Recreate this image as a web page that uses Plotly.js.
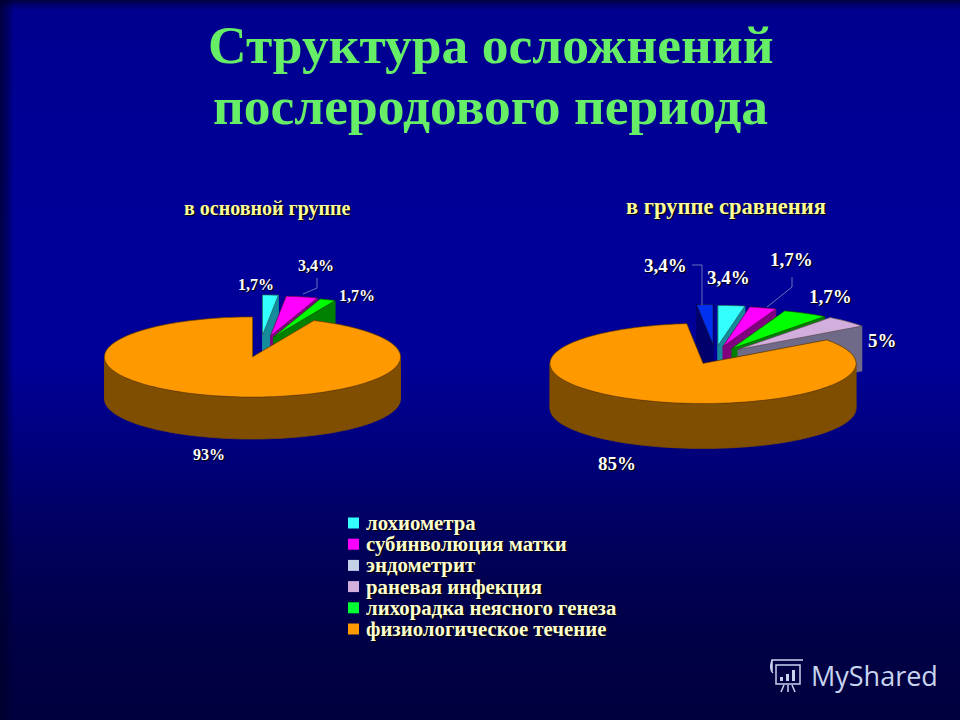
<!DOCTYPE html>
<html><head><meta charset="utf-8">
<script src="https://cdn.plot.ly/plotly-3.0.1.min.js"></script>
<style>
html,body{margin:0;padding:0;width:960px;height:720px;overflow:hidden;
background:
 linear-gradient(90deg,rgba(0,0,40,.75) 0,rgba(0,0,40,.5) 6px,rgba(0,0,40,0) 14px),
 linear-gradient(180deg,rgba(0,0,40,.8) 0,rgba(0,0,40,.4) 4px,rgba(0,0,40,0) 10px),
 linear-gradient(180deg,#00008e 0,#000098 30%,#000098 50%,#000078 64%,#000058 77%,#000046 89%,#00003e 100%);}
#c{width:960px;height:720px}
</style></head><body><div id="c"></div>
<script>
// --- data ---
const leftNames = ['лохиометра','субинволюция матки','лихорадка неясного генеза','физиологическое течение'];
const leftValues = [1.7, 3.4, 1.7, 93];
const leftLabels = ['1,7%','3,4%','1,7%','93%'];
const rightNames = ['без подписи','лохиометра','субинволюция матки','лихорадка неясного генеза','раневая инфекция','физиологическое течение'];
const rightValues = [1.7, 2.8, 2.8, 4.7, 4.7, 83.3];
const rightLabels = ['3,4%','3,4%','1,7%','1,7%','5%','85%'];
const legendItems = ['лохиометра','субинволюция матки','эндометрит','раневая инфекция','лихорадка неясного генеза','физиологическое течение'];
const legendColors = ['#33FFFF','#FF00FF','#C4D2E8','#D2AEDC','#00FF33','#FF9900'];

// --- styling and layout ---
const topColor = {'лохиометра':'#33FFFF','субинволюция матки':'#FF00FF','лихорадка неясного генеза':'#00FF00','раневая инфекция':'#D2AEDC','физиологическое течение':'#FF9900','без подписи':'#0030F0'};
const wallColor = {'лохиометра':'#148C9C','субинволюция матки':'#800080','лихорадка неясного генеза':'#008000','раневая инфекция':'#6E6A88','физиологическое течение':'#7F4E00','без подписи':'#00006C'};
const leftPie = {cx:252.5, cy:357, rx:148, ry:40, depth:42, start:0,
  shift:[[10,-22],[18,-21],[21,-20],[0,0]],
  labelAt:[[256,284],[316,265],[357,295],[209,454]], size:16};
const rightPie = {cx:703, cy:363.5, rx:153, ry:40, depth:45, start:-6.12,
  shift:[[10,-19],[15,-18],[20,-17],[29,-15],[35,-14],[0,0]],
  labelAt:[[665,265],[728,277],[791,259],[830,296],[882,340],[617,463]], size:19};

const traces = [];
function arc(ox,oy,pie,a0,a1){
  const xs=[],ys=[],n=Math.max(2,Math.ceil((a1-a0)/2));
  for(let k=0;k<=n;k++){
    const t=(a0+(a1-a0)*k/n)*Math.PI/180;
    xs.push(ox+pie.rx*Math.sin(t)); ys.push(oy-pie.ry*Math.cos(t));
  }
  return [xs,ys];
}
function poly(x,y,fill,line,name){
  traces.push({type:'scatter',mode:'lines',x,y,fill:'toself',fillcolor:fill,
    line:{color:line,width:0.7,simplify:false},hoverinfo:'skip',showlegend:false,name});
}
function slices(values, names, pie){
  const total = values.reduce((a,b)=>a+b,0);
  let ang = pie.start;
  values.forEach((v,i)=>{
    const a0 = ang, a1 = ang + v/total*360; ang = a1;
    const ox = pie.cx + pie.shift[i][0], oy = pie.cy + pie.shift[i][1];
    const [ax,ay] = arc(ox,oy,pie,a0,a1);
    const d = pie.depth, last = ax.length-1, wall = wallColor[names[i]];
    // two cut faces
    poly([ox,ax[0],ax[0],ox,ox],[oy,ay[0],ay[0]+d,oy+d,oy],wall,wall,names[i]+' (срез)');
    poly([ox,ax[last],ax[last],ox,ox],[oy,ay[last],ay[last]+d,oy+d,oy],wall,wall,names[i]+' (срез)');
    // outer wall, split where the rim turns from back to front
    const cuts = [a0].concat([90,270].filter(c=>c>a0&&c<a1),[a1]);
    for(let c=0;c<cuts.length-1;c++){
      const [bx,by] = arc(ox,oy,pie,cuts[c],cuts[c+1]);
      poly(bx.concat(bx.slice().reverse(),[bx[0]]),by.concat(by.slice().reverse().map(y=>y+d),[by[0]]),wall,wall,names[i]+' (стенка)');
    }
    poly([ox].concat(ax,[ox]),[oy].concat(ay,[oy]),topColor[names[i]],'rgba(40,20,0,0.55)',names[i]);
  });
}
slices(leftValues,leftNames,leftPie);
slices(rightValues,rightNames,rightPie);

// leader lines
traces.push({type:'scatter',mode:'lines',x:[317,317,303,null,692,702,702,null,792,792,767],
  y:[278,288,294,null,265,265,305,null,277,287,307],line:{color:'#8090c0',width:0.8},hoverinfo:'skip',showlegend:false});

// legend swatches
const legendRowY = legendItems.map((_,i)=>523+i*21.2);
traces.push({type:'scatter',mode:'markers',x:legendItems.map(()=>353.5),y:legendRowY,
  marker:{symbol:'square',size:11,color:legendColors},hoverinfo:'skip',showlegend:false,name:'легенда'});

const serif = 'Liberation Serif';
const shadow = '1px 1px 1px #000';
const annotations = [];
function addLabels(labels,pie){
  labels.forEach((t,i)=>annotations.push({xref:'x',yref:'y',x:pie.labelAt[i][0],y:pie.labelAt[i][1],text:t,showarrow:false,
    font:{family:serif,size:pie.size,color:'#FFFFFF',weight:700,shadow}}));
}
addLabels(leftLabels,leftPie);
addLabels(rightLabels,rightPie);
legendItems.forEach((t,i)=>annotations.push({xref:'x',yref:'y',x:364,y:legendRowY[i],xanchor:'left',text:t,showarrow:false,
  font:{family:serif,size:20.8,color:'#FFFFD0',weight:700,shadow}}));
annotations.push({xref:'x',yref:'y',x:267.5,y:208,text:'в основной группе',showarrow:false,font:{family:serif,size:20,color:'#FFFF99',weight:700,shadow}});
annotations.push({xref:'x',yref:'y',x:726,y:206,text:'в группе сравнения',showarrow:false,font:{family:serif,size:22.5,color:'#FFFF99',weight:700,shadow}});
const titleFont = {family:serif,size:53.5,color:'#66EE66',weight:700};
annotations.push({xref:'x',yref:'y',x:490.5,y:45,text:'Структура осложнений',showarrow:false,font:titleFont});
annotations.push({xref:'x',yref:'y',x:490.5,y:106,text:'послеродового периода',showarrow:false,font:titleFont});
annotations.push({xref:'x',yref:'y',x:874,y:675,text:'MyShared',showarrow:false,font:{family:'Open Sans',size:27,color:'#C8D4EE'}});

// watermark icon
const wm = '#C8D4EE';
const line = {color:wm,width:1.5};
const shapes = [
 {type:'path',xref:'x',yref:'y',path:'M 772 672 V 660 H 803 M 772 660 Q 769 670 773 673',line},
 {type:'rect',xref:'x',yref:'y',x0:776,x1:800,y0:665,y1:684,line},
 {type:'rect',xref:'x',yref:'y',x0:780,x1:783,y0:677,y1:681,line:{width:0},fillcolor:wm},
 {type:'rect',xref:'x',yref:'y',x0:786,x1:789,y0:674,y1:681,line:{width:0},fillcolor:wm},
 {type:'rect',xref:'x',yref:'y',x0:792,x1:795,y0:670,y1:681,line:{width:0},fillcolor:wm},
 {type:'path',xref:'x',yref:'y',path:'M 784 685 L 781 692 M 788 685 V 692 M 792 685 L 795 692',line}
];

const layout = {
  width:960,height:720,margin:{l:0,r:0,t:0,b:0},
  paper_bgcolor:'rgba(0,0,0,0)',plot_bgcolor:'rgba(0,0,0,0)',showlegend:false,
  xaxis:{visible:false,range:[0,960],fixedrange:true},
  yaxis:{visible:false,range:[720,0],fixedrange:true},
  annotations,shapes
};
Plotly.newPlot('c',traces,layout,{displayModeBar:false,staticPlot:true});
</script></body></html>
